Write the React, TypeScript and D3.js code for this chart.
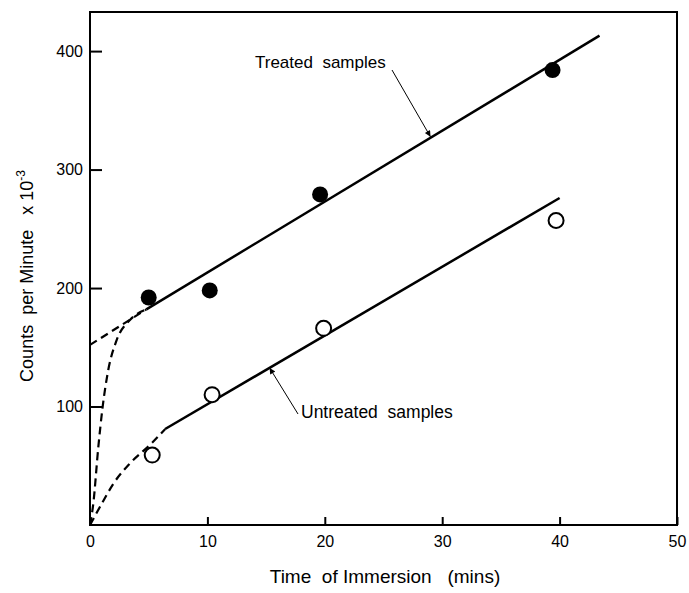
import React, { useEffect, useRef } from "react";
import * as d3 from "d3";

// measured points (minutes, counts per minute x 10^-3)
const treatedTime = [5, 10.2, 19.6, 39.4];
const treatedCounts = [192, 198, 279, 384];
const untreatedTime = [5.3, 10.4, 19.9, 39.7];
const untreatedCounts = [59, 110, 166, 257];

// fitted straight lines (end points)
const treatedFitTime = [4.8, 43.4];
const treatedFitCounts = [182, 413];
const untreatedFitTime = [6.4, 40];
const untreatedFitCounts = [81, 276];

// dashed extrapolations
const treatedDashTime = [0, 4.8];
const treatedDashCounts = [152, 182];
const treatedCurveTime = [0, 0.28, 0.71, 1.08, 1.56, 2.27, 3.4, 4.8];
const treatedCurveCounts = [0, 18, 66, 100, 131, 156, 173, 182];
const untreatedCurveTime = [0, 1, 2, 3.4, 5.25, 6.4];
const untreatedCurveCounts = [0, 18, 35, 52, 69, 81];

const xTicks = [0, 10, 20, 30, 40, 50];
const yTicks = [100, 200, 300, 400];

const FONT = "'Liberation Sans', Arial, sans-serif";

const zip = (xs: number[], ys: number[]) => xs.map((t, i) => [t, ys[i]] as [number, number]);

const App = () => {
  const svgRef = useRef<SVGSVGElement>(null);

  useEffect(() => {
    const width = 689,
      height = 593;
    const margin = { top: 12, right: 12, bottom: 68, left: 90 };

    const svg = d3.select(svgRef.current);
    svg.selectAll("*").remove();
    svg.attr("width", width).attr("height", height);

    const x = d3.scaleLinear().domain([0, 50]).range([margin.left, width - margin.right]);
    const y = d3.scaleLinear().domain([0, 433]).range([height - margin.bottom, margin.top]);

    // frame
    svg
      .append("rect")
      .attr("x", x(0))
      .attr("y", y(433))
      .attr("width", x(50) - x(0))
      .attr("height", y(0) - y(433))
      .attr("fill", "none")
      .attr("stroke", "#000")
      .attr("stroke-width", 2);

    // x axis, ticks pointing inward
    const xAxis = svg
      .append("g")
      .attr("transform", `translate(0,${y(0)})`)
      .call(d3.axisBottom(x).tickValues(xTicks).tickSize(-8).tickPadding(11));
    xAxis.select(".domain").remove();
    xAxis.selectAll("line").attr("stroke-width", 2);
    xAxis.selectAll("text").attr("font-size", 16).attr("font-family", FONT).attr("fill", "#000");

    // y axis
    const yAxis = svg
      .append("g")
      .attr("transform", `translate(${x(0)},0)`)
      .call(d3.axisLeft(y).tickValues(yTicks).tickSize(-12).tickPadding(7));
    yAxis.select(".domain").remove();
    yAxis.selectAll("line").attr("stroke-width", 2);
    yAxis.selectAll("text").attr("font-size", 16).attr("font-family", FONT).attr("fill", "#000");

    const line = d3
      .line<[number, number]>()
      .x((d) => x(d[0]))
      .y((d) => y(d[1]));
    const curve = d3
      .line<[number, number]>()
      .x((d) => x(d[0]))
      .y((d) => y(d[1]))
      .curve(d3.curveMonotoneX);

    // dashed parts
    svg
      .append("path")
      .datum(zip(treatedDashTime, treatedDashCounts))
      .attr("d", line)
      .attr("fill", "none")
      .attr("stroke", "#000")
      .attr("stroke-width", 2.2)
      .attr("stroke-dasharray", "8,5");
    [zip(treatedCurveTime, treatedCurveCounts), zip(untreatedCurveTime, untreatedCurveCounts)].forEach((pts) =>
      svg
        .append("path")
        .datum(pts)
        .attr("d", curve)
        .attr("fill", "none")
        .attr("stroke", "#000")
        .attr("stroke-width", 2.2)
        .attr("stroke-dasharray", "8,5")
    );

    // solid fitted lines
    [zip(treatedFitTime, treatedFitCounts), zip(untreatedFitTime, untreatedFitCounts)].forEach((pts) =>
      svg
        .append("path")
        .datum(pts)
        .attr("d", line)
        .attr("fill", "none")
        .attr("stroke", "#000")
        .attr("stroke-width", 2.5)
    );

    // points
    svg
      .append("g")
      .selectAll("circle")
      .data(zip(treatedTime, treatedCounts))
      .join("circle")
      .attr("cx", (d) => x(d[0]))
      .attr("cy", (d) => y(d[1]))
      .attr("r", 8)
      .attr("fill", "#000");
    svg
      .append("g")
      .selectAll("circle")
      .data(zip(untreatedTime, untreatedCounts))
      .join("circle")
      .attr("cx", (d) => x(d[0]))
      .attr("cy", (d) => y(d[1]))
      .attr("r", 7.5)
      .attr("fill", "#fff")
      .attr("stroke", "#000")
      .attr("stroke-width", 2);

    // leader arrows
    svg
      .append("defs")
      .append("marker")
      .attr("id", "arrow")
      .attr("viewBox", "0 0 10 10")
      .attr("refX", 10)
      .attr("refY", 5)
      .attr("markerWidth", 13)
      .attr("markerHeight", 6)
      .attr("markerUnits", "userSpaceOnUse")
      .attr("orient", "auto")
      .append("path")
      .attr("d", "M0,0L10,5L0,10Z")
      .attr("fill", "#000");

    const treatedTip = 29;
    const untreatedTip = 15.3;
    svg
      .append("line")
      .attr("x1", 392)
      .attr("y1", 70)
      .attr("x2", x(treatedTip))
      .attr("y2", y(153.7 + treatedTip * 5.97) - 1)
      .attr("stroke", "#000")
      .attr("stroke-width", 1)
      .attr("marker-end", "url(#arrow)");
    svg
      .append("line")
      .attr("x1", 298)
      .attr("y1", 414)
      .attr("x2", x(untreatedTip))
      .attr("y2", y(45 + untreatedTip * 5.78) + 1)
      .attr("stroke", "#000")
      .attr("stroke-width", 1)
      .attr("marker-end", "url(#arrow)");

    svg
      .append("text")
      .attr("x", 255)
      .attr("y", 68)
      .attr("font-size", 17)
      .attr("font-family", FONT)
      .attr("xml:space", "preserve")
      .text("Treated  samples");
    svg
      .append("text")
      .attr("x", 301)
      .attr("y", 418)
      .attr("font-size", 17.5)
      .attr("font-family", FONT)
      .attr("xml:space", "preserve")
      .text("Untreated  samples");

    // axis titles
    svg
      .append("text")
      .attr("x", 385)
      .attr("y", 583)
      .attr("text-anchor", "middle")
      .attr("font-size", 19)
      .attr("font-family", FONT)
      .attr("xml:space", "preserve")
      .text("Time  of Immersion   (mins)");

    const yTitle = svg
      .append("text")
      .attr("transform", "translate(33,276) rotate(-90)")
      .attr("text-anchor", "middle")
      .attr("font-size", 18)
      .attr("font-family", FONT)
      .attr("xml:space", "preserve");
    yTitle.append("tspan").text("Counts  per Minute   x 10");
    yTitle.append("tspan").attr("dy", -8).attr("font-size", 12).text("-3");
  }, []);

  return <svg ref={svgRef} style={{ position: "absolute", left: 0, top: 0, background: "#fff" }}></svg>;
};

export default App;
